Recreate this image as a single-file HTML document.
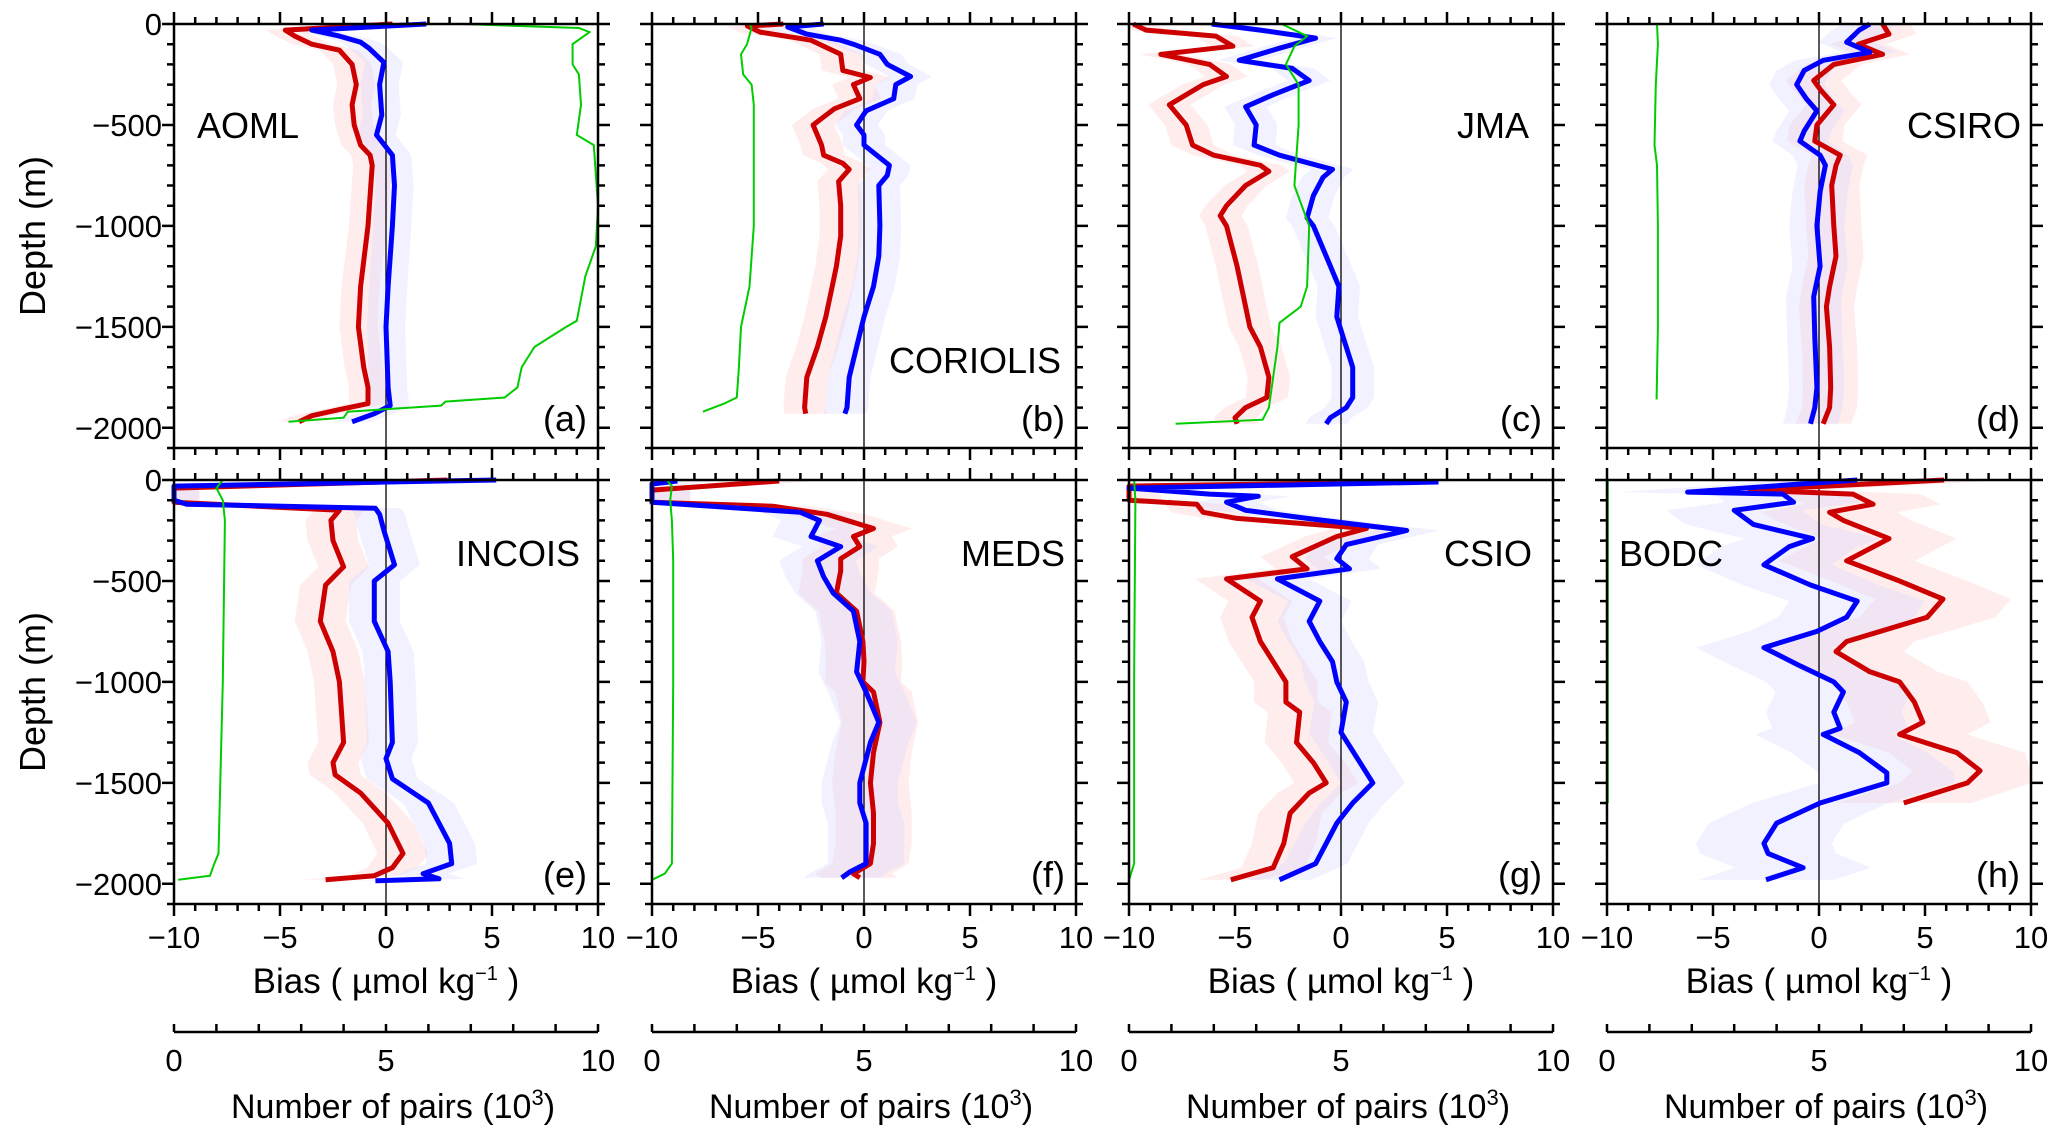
<!DOCTYPE html>
<html><head><meta charset="utf-8"><style>
html,body{margin:0;padding:0;background:#fff;}
svg{display:block;font-family:"Liberation Sans",Arial,sans-serif;}
</style></head><body>
<svg id="chart" width="2067" height="1140" viewBox="0 0 2067 1140" xmlns="http://www.w3.org/2000/svg"></svg>
<script>
// ---- data (depth in m, bias in umol/kg, pairs in 10^3) ----
const panelNames=["AOML","CORIOLIS","JMA","CSIRO","INCOIS","MEDS","CSIO","BODC"];
const panelLetters=["(a)","(b)","(c)","(d)","(e)","(f)","(g)","(h)"];
const bandHalfWidth=[0.9,1.0,1.0,1.3,1.2,1.8,1.5,3.2];
const xTickLabels=["−10","−5","0","5","10"];
const yTickLabels=["0","−500","−1000","−1500","−2000"];
const pairsTickLabels=["0","5","10"];

const aRedD=[0,30,60,100,130,200,300,400,500,600,650,700,1000,1300,1500,1700,1800,1880,1910,1940,1970];
const aRedV=[0.3,-4.75,-4.3,-3.5,-2.2,-1.6,-1.4,-1.6,-1.5,-1.2,-0.75,-0.65,-0.85,-1.2,-1.3,-1.05,-0.85,-0.85,-2.2,-3.5,-4.1];
const aBlueD=[0,30,60,90,120,190,300,450,550,650,800,1000,1300,1500,1800,1890,1930,1970];
const aBlueV=[1.9,-3.5,-2.2,-1.2,-0.8,-0.1,-0.3,-0.2,-0.45,0.3,0.4,0.3,0.1,0,0.1,0.2,-0.55,-1.6];
const aPairD=[0,20,40,100,200,250,400,550,600,900,1100,1250,1470,1500,1600,1700,1800,1850,1870,1890,1920,1950,1970];
const aPairN=[6.8,9.55,9.8,9.4,9.4,9.55,9.6,9.5,9.9,10,9.95,9.7,9.5,9.25,8.5,8.2,8.1,7.8,6.4,6.3,4.1,4.0,2.7];

const bRedD=[0,10,40,80,150,230,265,300,370,420,500,600,650,690,720,780,900,1050,1200,1300,1450,1600,1750,1900,1930];
const bRedV=[-3.8,-5.5,-4.9,-2.5,-1.1,-1.0,0.3,-0.5,-0.2,-1.4,-2.4,-2.0,-1.9,-1.0,-0.7,-1.2,-1.1,-1.1,-1.3,-1.5,-1.8,-2.2,-2.7,-2.8,-2.75];
const bBlueD=[0,15,50,80,100,150,200,260,300,370,430,500,550,600,650,700,750,800,1000,1150,1300,1450,1600,1750,1900,1930];
const bBlueV=[-1.9,-3.6,-2.7,-1.1,-0.5,0.75,1.1,2.2,1.5,1.4,0.1,-0.35,0,0,0.6,1.2,1.1,0.7,0.75,0.7,0.45,0,-0.35,-0.7,-0.8,-0.9];
const bPairD=[0,20,100,150,250,300,400,600,1000,1300,1500,1700,1850,1880,1920];
const bPairN=[2.3,2.35,2.24,2.1,2.15,2.35,2.4,2.4,2.4,2.3,2.1,2.05,2.0,1.7,1.2];

const cRedD=[0,30,60,110,150,200,260,300,400,500,600,650,700,730,800,900,950,1000,1200,1400,1500,1600,1750,1850,1900,1950,1980];
const cRedV=[-9.8,-9.2,-5.9,-5.1,-8.5,-6.2,-5.4,-6.5,-8.1,-7.3,-7.0,-6.0,-3.8,-3.4,-4.5,-5.4,-5.7,-5.4,-4.9,-4.5,-4.3,-3.8,-3.4,-3.5,-4.5,-5.0,-4.9];
const cBlueD=[0,30,70,120,180,220,280,350,410,500,600,650,720,760,850,960,1000,1150,1300,1450,1550,1700,1850,1900,1950,1980];
const cBlueV=[-6.1,-3.8,-1.2,-2.9,-4.8,-2.3,-1.5,-3.2,-4.5,-4.0,-4.1,-2.9,-0.4,-0.85,-1.3,-1.6,-1.3,-0.7,-0.1,-0.2,0.1,0.55,0.55,0.25,-0.5,-0.7];
const cPairD=[0,60,110,200,300,500,800,1000,1300,1400,1480,1600,1900,1960,1980];
const cPairN=[3.6,4.2,3.9,3.7,4.0,4.0,3.9,4.25,4.2,4.05,3.55,3.5,3.3,3.15,1.1];

const dRedD=[0,50,100,150,200,280,330,400,500,580,650,700,800,1000,1150,1300,1400,1600,1800,1900,1980];
const dRedV=[3.0,3.3,1.85,3.0,0.7,-0.25,0.1,0.7,-0.1,-0.2,1.0,0.8,0.6,0.7,0.8,0.5,0.35,0.5,0.55,0.5,0.2];
const dBlueD=[0,30,90,140,180,230,300,370,430,530,580,650,700,830,1000,1200,1350,1550,1800,1900,1980];
const dBlueV=[2.4,1.9,1.3,2.4,0.2,-0.7,-1.05,-0.6,-0.1,-0.7,-0.9,0.05,0.3,0.05,-0.1,0.05,-0.25,-0.2,-0.1,-0.2,-0.4];
const dPairD=[0,100,300,600,700,1000,1500,1860];
const dPairN=[1.18,1.2,1.15,1.12,1.18,1.2,1.2,1.17];

const eRedD=[0,40,110,150,200,300,430,520,700,850,1000,1300,1400,1460,1550,1700,1850,1920,1960,1980];
const eRedV=[2.9,-10,-10,-2.2,-2.6,-2.5,-2.0,-2.85,-3.1,-2.5,-2.2,-2.0,-2.5,-2.4,-1.2,0.1,0.8,0.3,-0.55,-2.85];
const eBlueD=[0,30,100,120,140,170,250,420,500,700,850,1000,1300,1380,1480,1600,1800,1900,1950,1975,1985];
const eBlueV=[5.2,-10,-10,-9.4,-0.5,-0.3,-0.1,0.4,-0.55,-0.55,0.1,0.2,0.3,0,0.3,2.0,3.0,3.1,1.75,2.5,-0.5];
const ePairD=[0,40,100,200,1000,1850,1900,1960,1980];
const ePairN=[1.15,1.0,1.15,1.2,1.15,1.05,0.95,0.85,0.1];

const fRedD=[5,50,110,130,170,240,280,330,390,450,560,650,800,900,1000,1050,1200,1350,1500,1650,1800,1900,1950,1970];
const fRedV=[-4.0,-10,-10,-4.3,-1.75,0.45,-0.5,-0.2,-1.1,-1.1,-1.3,-0.35,-0.05,0,-0.05,0.45,0.75,0.45,0.3,0.45,0.45,0.3,-0.5,-0.2];
const fBlueD=[5,20,110,160,200,280,330,400,480,560,650,800,950,1050,1200,1300,1500,1600,1700,1900,1940,1970];
const fBlueV=[-8.8,-10,-10,-3.0,-2.1,-2.5,-1.1,-2.2,-1.9,-1.45,-0.5,-0.2,-0.35,0.1,0.7,0.3,-0.2,-0.2,0.1,0.1,-0.65,-1.05];
const fPairD=[0,30,100,200,400,1000,1900,1950,1980];
const fPairN=[0.35,0.47,0.43,0.47,0.5,0.5,0.47,0.3,0];

const gRedD=[10,30,100,120,160,190,240,280,380,440,490,600,680,800,900,1000,1100,1150,1300,1400,1500,1550,1650,1800,1920,1980];
const gRedV=[2.9,-10,-10,-6.8,-6.5,-4.9,1.2,-0.2,-2.3,-1.6,-5.4,-3.8,-4.2,-3.8,-3.2,-2.6,-2.6,-1.95,-2.1,-1.3,-0.7,-1.5,-2.4,-2.7,-3.2,-5.2];
const gBlueD=[10,40,70,80,110,150,190,250,320,390,440,490,600,700,800,900,1000,1100,1250,1400,1500,1600,1700,1900,1980];
const gBlueV=[4.6,-10,-6.2,-3.9,-5.4,-4.5,-1.6,3.1,0.25,-0.2,0.4,-3.0,-1.0,-1.5,-1.0,-0.4,-0.2,0.25,0,0.9,1.5,0.55,-0.2,-1.2,-2.9];
const gPairD=[0,100,1000,1900,1980];
const gPairN=[0.12,0.15,0.12,0.12,0];

const hRedD=[0,50,70,120,160,200,290,400,500,590,680,800,850,950,1000,1100,1200,1260,1350,1440,1500,1600];
const hRedV=[5.9,-3.25,1.6,2.55,0.5,1.15,3.3,1.3,3.8,5.85,5.1,1.3,0.8,2.4,3.8,4.5,4.9,3.8,6.5,7.6,7.0,4.0];
const hBlueD=[0,60,70,110,150,220,290,330,420,520,600,680,750,830,920,1000,1050,1150,1230,1260,1350,1450,1500,1600,1700,1800,1850,1920,1980];
const hBlueV=[1.8,-6.2,-1.7,-1.2,-4.0,-3.1,-0.3,-1.4,-2.6,-0.4,1.8,1.3,-0.1,-2.6,-0.9,0.7,1.15,0.7,1.0,0.2,1.9,3.2,3.2,0.05,-2.0,-2.6,-2.4,-0.75,-2.5];
const hPairD=[0,800,1600];
const hPairN=[0.02,0.02,0.02];

const redDepths=[aRedD,bRedD,cRedD,dRedD,eRedD,fRedD,gRedD,hRedD];
const redBias=[aRedV,bRedV,cRedV,dRedV,eRedV,fRedV,gRedV,hRedV];
const blueDepths=[aBlueD,bBlueD,cBlueD,dBlueD,eBlueD,fBlueD,gBlueD,hBlueD];
const blueBias=[aBlueV,bBlueV,cBlueV,dBlueV,eBlueV,fBlueV,gBlueV,hBlueV];
const pairDepths=[aPairD,bPairD,cPairD,dPairD,ePairD,fPairD,gPairD,hPairD];
const pairCounts=[aPairN,bPairN,cPairN,dPairN,ePairN,fPairN,gPairN,hPairN];

// ---- layout ----
const NS="http://www.w3.org/2000/svg";
const svg=document.getElementById('chart');
const colX=[174,652,1129,1607], rowY=[24,480], PW=424, PH=424;
const DMAX=2100;
function px(p,v){return colX[p%4]+(v+10)/20*PW;}
function py(p,d){return rowY[Math.floor(p/4)]+d/DMAX*PH;}
function pn(p,n){return colX[p%4]+n/10*PW;}
function mk(tag,attrs,parent){const e=document.createElementNS(NS,tag);for(const k in attrs)e.setAttribute(k,attrs[k]);(parent||svg).appendChild(e);return e;}

for(let p=0;p<8;p++){
  const g=mk('g',{});
  
  
  const L=colX[p%4], T=rowY[Math.floor(p/4)];
  [[redDepths,redBias,'#ffcaca','red'],[blueDepths,blueBias,'#d8d8ff','blue']].forEach(([D,V,col,nm])=>{
    const d=D[p],v=V[p],hw=bandHalfWidth[p];
    const pts=[];
    for(let i=0;i<d.length;i++)pts.push(Math.min(px(p,10),px(p,v[i]+hw)).toFixed(1)+','+py(p,d[i]).toFixed(1));
    for(let i=d.length-1;i>=0;i--)pts.push(Math.max(px(p,-10),px(p,v[i]-hw)).toFixed(1)+','+py(p,d[i]).toFixed(1));
    const b=mk('polygon',{points:pts.join(' '),fill:col,'fill-opacity':0.35},g);
    
    
  });
  const z=mk('line',{x1:px(p,0),x2:px(p,0),y1:T,y2:T+PH,stroke:'#000','stroke-width':1.3},g);
  
  
  [[redDepths,redBias,'#cc0000','red'],[blueDepths,blueBias,'#0000ff','blue']].forEach(([D,V,col,nm])=>{
    const d=D[p],v=V[p];
    const pts=d.map((dd,i)=>px(p,v[i]).toFixed(1)+','+py(p,dd).toFixed(1)).join(' ');
    const l=mk('polyline',{points:pts,fill:'none',stroke:col,'stroke-width':5,'stroke-linejoin':'round'},g);
    
    
  });
  {
    const d=pairDepths[p],n=pairCounts[p];
    const pts=d.map((dd,i)=>pn(p,n[i]).toFixed(1)+','+py(p,dd).toFixed(1)).join(' ');
    const l=mk('polyline',{points:pts,fill:'none',stroke:'#00cc00','stroke-width':2},g);
    
    
  }
  const fr=mk('rect',{x:L,y:T,width:PW,height:PH,fill:'none',stroke:'#000','stroke-width':2.5},g);
  
  
  let tk='';
  for(let v=-10;v<=10;v++){
    const x=px(p,v), len=(v%5===0)?12:7;
    tk+=`M${x},${T}v${-len}M${x},${T+PH}v${len}`;
  }
  for(let d=0;d<=DMAX;d+=100){
    const y=py(p,d), len=(d%500===0)?12:7;
    tk+=`M${L},${y}h${-len}M${L+PW},${y}h${len}`;
  }
  const t=mk('path',{d:tk,stroke:'#000','stroke-width':2.5,fill:'none'},g);
  
  
  const nameRightAlign=[false,true,true,true,true,true,true,false];
  const namePos=[[197,125],[1061,360],[1529,125],[2021,125],[580,553],[1065,553],[1532,553],[1619,553]];
  const nl=mk('text',{x:namePos[p][0],y:namePos[p][1]+13,'font-size':36,'text-anchor':nameRightAlign[p]?'end':'start',fill:'#000'},g);
  nl.textContent=panelNames[p];
  
  
  const ll=mk('text',{x:L+PW-11,y:T+394+13,'font-size':36,'text-anchor':'end',fill:'#000'},g);
  ll.textContent=panelLetters[p];
  
  
}
for(let r=0;r<2;r++){
  for(let i=0;i<yTickLabels.length;i++){
    const t=mk('text',{x:162,y:py(r*4,i*500)+11,'font-size':31,'text-anchor':'end'});
    t.textContent=yTickLabels[i];
    
    
  }
  const cy=rowY[r]+PH/2;
  const yt=mk('text',{x:0,y:0,'font-size':36,'text-anchor':'middle',transform:`translate(45,${cy}) rotate(-90)`});
  yt.textContent='Depth (m)';
  
  
}
for(let c=0;c<4;c++){
  const p=4+c, L=colX[c];
  for(let i=0;i<xTickLabels.length;i++){
    const t=mk('text',{x:px(p,-10+i*5),y:948,'font-size':31,'text-anchor':'middle'});
    t.textContent=xTickLabels[i];
    
    
  }
  const bt=mk('text',{x:L+PW/2,y:993,'font-size':35,'text-anchor':'middle'});
  bt.innerHTML='Bias ( µmol kg<tspan dy="-13" font-size="20">−1</tspan><tspan dy="13"> )</tspan>';
  
  
  let d=`M${L},1032h${PW}`;
  for(let n=0;n<=10;n++){d+=`M${pn(p,n)},1032v-8`;}
  const ax=mk('path',{d:d,stroke:'#000','stroke-width':2.5,fill:'none'});
  
  
  for(let i=0;i<pairsTickLabels.length;i++){
    const t=mk('text',{x:pn(p,i*5),y:1071,'font-size':31,'text-anchor':'middle'});
    t.textContent=pairsTickLabels[i];
    
    
  }
  const nt=mk('text',{x:L+PW/2+7,y:1118,'font-size':34,'text-anchor':'middle'});
  nt.innerHTML='Number of pairs (10<tspan dy="-13" font-size="22">3</tspan><tspan dy="13">)</tspan>';
  
  
}
</script>
</body></html>
